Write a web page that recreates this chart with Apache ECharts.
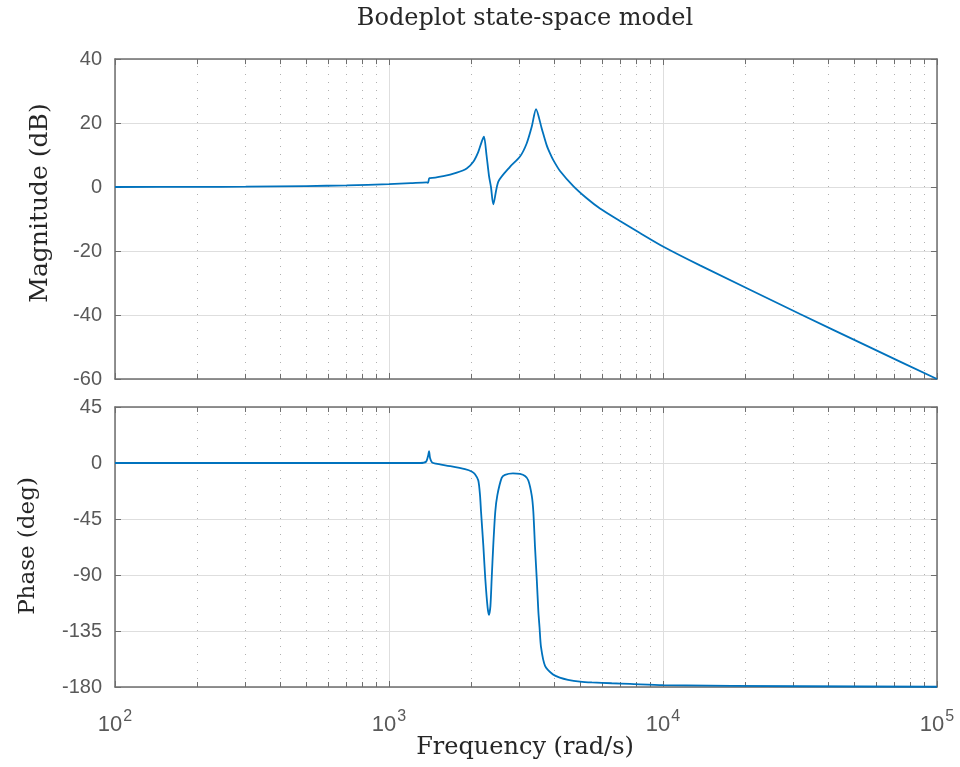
<!DOCTYPE html>
<html>
<head>
<meta charset="utf-8">
<script src="https://cdn.jsdelivr.net/npm/echarts@6/dist/echarts.min.js"></script>
<style>html,body{margin:0;padding:0;background:#fff}#c{width:960px;height:767px}</style>
</head>
<body>
<div id="c"></div>
<script>
// ---- data ----
const freqMag = [100, 200, 300, 500, 700, 1000, 1200, 1370, 1388, 1402, 1411, 1578, 1767, 1921, 2031, 2118, 2180, 2222, 2269, 2317, 2356, 2402, 2506, 2764, 3007, 3180, 3318, 3440, 3609, 3764, 3870, 3978, 4209, 4706, 5267, 5889, 6967, 8242, 10000, 13646, 31623, 56234, 100000];
const magDb   = [0, 0.05, 0.1, 0.3, 0.5, 0.9, 1.2, 1.45, 1.3, 2.8, 2.8, 3.4, 4.5, 5.8, 7.9, 11, 14.2, 15.7, 10, 3.5, 0, -5.4, 1.7, 6.3, 9.5, 13.6, 18.8, 24.3, 18.3, 13, 10.5, 8.4, 5.0, 0.3, -3.5, -6.7, -10.6, -14.4, -18.6, -24.5, -39.7, -49.9, -60];

const freqPh   = [100, 1000, 1300, 1365, 1390, 1400, 1412, 1435, 1484, 1670, 1894, 2009, 2060, 2118, 2149, 2167, 2209, 2246, 2290, 2317, 2345, 2370, 2402, 2443, 2485, 2578, 2650, 2835, 3007, 3136, 3225, 3318, 3363, 3412, 3461, 3508, 3543, 3588, 3711, 3969, 4200, 4500, 4977, 5500, 6500, 7578, 10000, 31623, 100000];
const phaseDeg = [0, 0, 0, 1, 6, 9.6, 4, 0.5, -0.5, -2.5, -5, -7, -9, -14, -26, -39, -66, -93, -116, -122, -115, -93, -66, -39, -26, -12, -9.5, -8.3, -8.8, -10.5, -14, -26, -39, -68, -93, -119, -132, -148, -163, -170, -172.5, -174.2, -175.6, -176.3, -177, -177.5, -178.5, -179.4, -179.8];

const freqMin = 100, freqMax = 100000;
const minorFreqs = [200,300,400,500,600,700,800,900,2000,3000,4000,5000,6000,7000,8000,9000,20000,30000,40000,50000,60000,70000,80000,90000];
const magRange = [-60, 40], magStep = 20;
const phRange = [-180, 45], phStep = 45;

const titleText = 'Bodeplot state-space model';
const magLabel = 'Magnitude (dB)';
const phLabel = 'Phase (deg)';
const freqLabel = 'Frequency (rad/s)';

// ---- chart ----
const serif = '"DejaVu Serif", "Liberation Serif", serif';
const sans = '"Liberation Sans", Arial, sans-serif';
const boxColor = '#6e6e6e';
const labelColor = '#595959';
const textDark = '#262626';
const lineBlue = '#0072BD';

function minorMarks(lo, hi, tickLen) {
  const arr = [];
  minorFreqs.forEach(v => {
    arr.push({ xAxis: v, lineStyle: { type: [1, 7], color: '#b0b0b0', width: 1 } });
    arr.push([{ coord: [v, lo] }, { coord: [v, lo + tickLen], lineStyle: { type: 'solid', color: boxColor, width: 1 } }]);
    arr.push([{ coord: [v, hi] }, { coord: [v, hi - tickLen], lineStyle: { type: 'solid', color: boxColor, width: 1 } }]);
  });
  return arr;
}

function xAxisBase(gridIndex, showLabels, position) {
  return {
    type: 'log', logBase: 10, min: freqMin, max: freqMax, gridIndex: gridIndex,
    position: position || 'bottom',
    axisLine: { show: true, onZero: false, lineStyle: { color: boxColor, width: 1.5 } },
    axisTick: { show: true, inside: true, length: 6, lineStyle: { color: boxColor } },
    splitLine: { show: position !== 'top', lineStyle: { color: '#dedede', width: 1 } },
    axisLabel: showLabels ? {
      show: true, margin: 22,
      formatter: v => '{b|10}{s|' + Math.round(Math.log10(v)) + '}',
      rich: {
        b: { fontSize: 22, fontFamily: sans, color: labelColor },
        s: { fontSize: 16, fontFamily: sans, color: labelColor, padding: [0, 0, 16, 1] }
      }
    } : { show: false }
  };
}

function yAxisBase(gridIndex, range, step, position) {
  const left = position !== 'right';
  return {
    type: 'value', gridIndex: gridIndex, min: range[0], max: range[1], interval: step,
    position: position || 'left',
    axisLine: { show: true, lineStyle: { color: boxColor, width: 1.5 } },
    axisTick: { show: true, inside: true, length: 6, lineStyle: { color: boxColor } },
    splitLine: { show: left, lineStyle: { color: '#dedede', width: 1 } },
    axisLabel: left ? { show: true, fontSize: 20, fontFamily: sans, color: labelColor, margin: 13 } : { show: false }
  };
}

const chart = echarts.init(document.getElementById('c'), null, { renderer: 'canvas' });
const xBottom = xAxisBase(1, true);

chart.setOption({
  animation: false,
  backgroundColor: '#fff',
  graphic: [
    { type: 'text', x: 525, y: 19, silent: true,
      style: { text: titleText, font: '24px ' + serif, fill: textDark, align: 'center', verticalAlign: 'middle' } },
    { type: 'text', x: 40, y: 203, rotation: Math.PI / 2, silent: true,
      style: { text: magLabel, font: '25px ' + serif, fill: textDark, align: 'center', verticalAlign: 'middle' } },
    { type: 'text', x: 28, y: 546, rotation: Math.PI / 2, silent: true,
      style: { text: phLabel, font: '23px ' + serif, fill: textDark, align: 'center', verticalAlign: 'middle' } },
    { type: 'text', x: 525, y: 748, silent: true,
      style: { text: freqLabel, font: '24px ' + serif, fill: textDark, align: 'center', verticalAlign: 'middle' } }
  ],
  grid: [
    { left: 115, right: 23, top: 59, height: 320 },
    { left: 115, right: 23, top: 407, height: 280 }
  ],
  xAxis: [
    xAxisBase(0, false),
    xBottom,
    xAxisBase(0, false, 'top'),
    xAxisBase(1, false, 'top')
  ],
  yAxis: [
    yAxisBase(0, magRange, magStep),
    yAxisBase(1, phRange, phStep),
    yAxisBase(0, magRange, magStep, 'right'),
    yAxisBase(1, phRange, phStep, 'right')
  ],
  series: [
    {
      type: 'line', xAxisIndex: 0, yAxisIndex: 0, showSymbol: false, symbol: 'none',
      smooth: 0.25,
      data: freqMag.map((f, i) => [f, magDb[i]]),
      lineStyle: { color: lineBlue, width: 1.8 }, z: 5,
      markLine: { silent: true, symbol: 'none', label: { show: false }, animation: false, data: minorMarks(magRange[0], magRange[1], 1.6) }
    },
    {
      type: 'line', xAxisIndex: 1, yAxisIndex: 1, showSymbol: false, symbol: 'none',
      smooth: 0.25,
      data: freqPh.map((f, i) => [f, phaseDeg[i]]),
      lineStyle: { color: lineBlue, width: 1.8 }, z: 5,
      markLine: { silent: true, symbol: 'none', label: { show: false }, animation: false, data: minorMarks(phRange[0], phRange[1], 4) }
    }
  ]
});
</script>
</body>
</html>
